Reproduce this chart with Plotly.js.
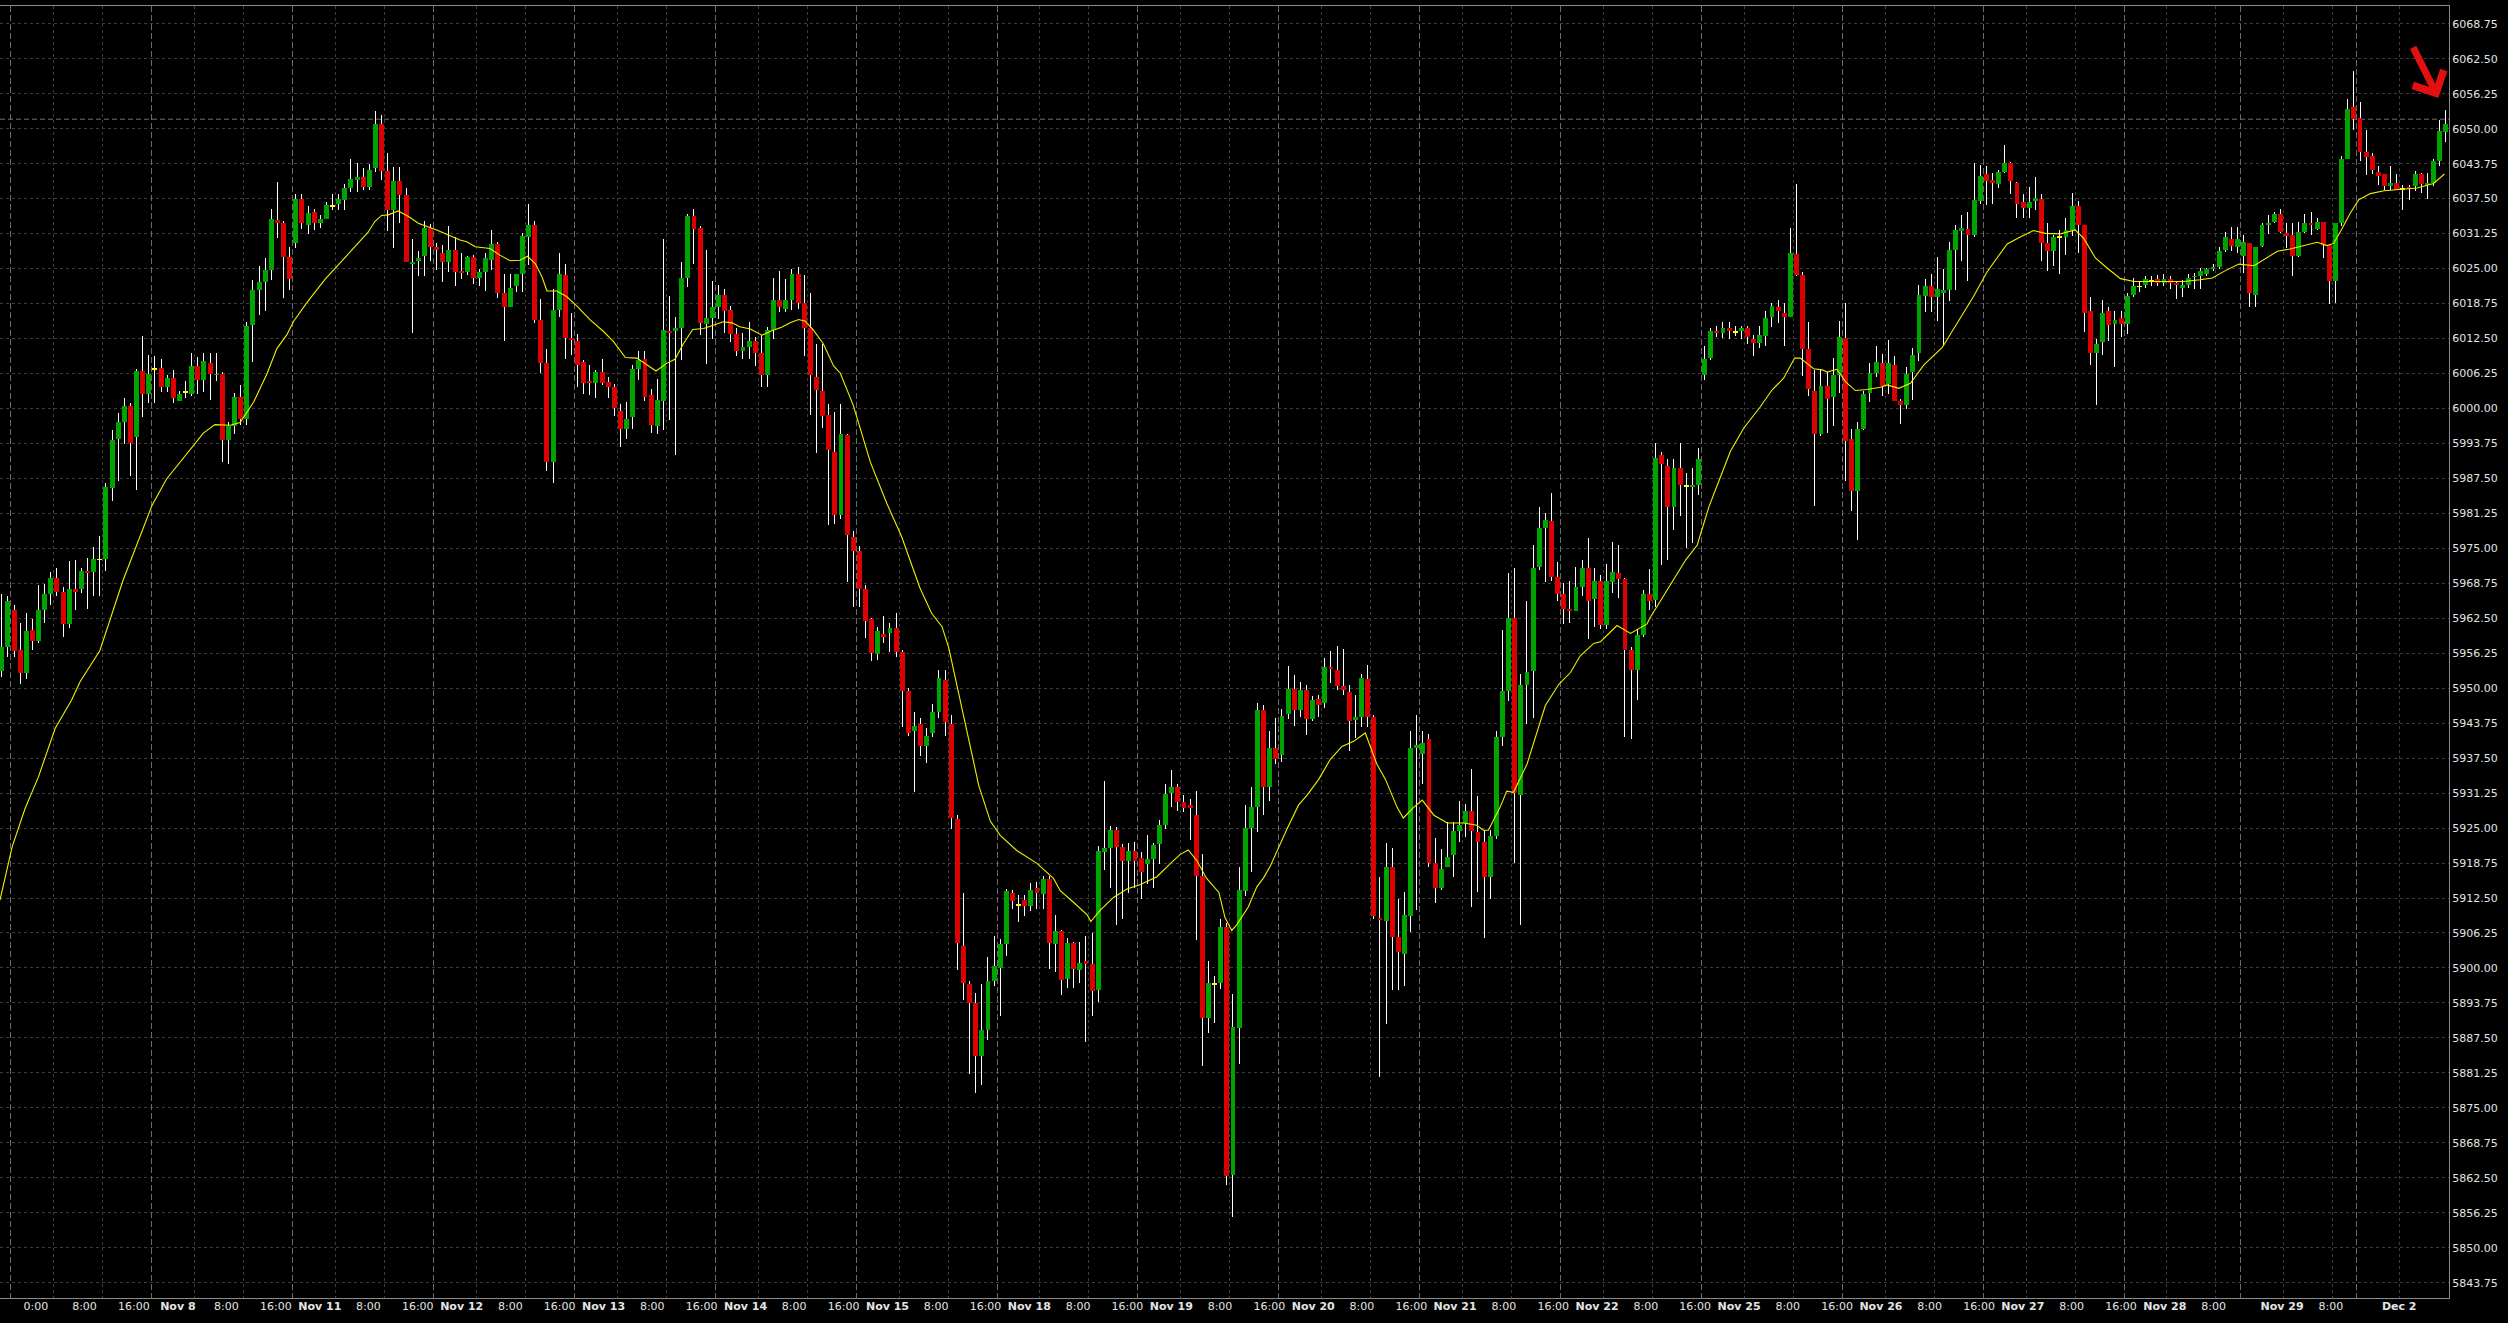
<!DOCTYPE html>
<html>
<head>
<meta charset="utf-8">
<script src="https://cdn.plot.ly/plotly-3.0.1.min.js"></script>
<style>
html,body{margin:0;padding:0;background:#000;overflow:hidden;}
#chart{width:2508px;height:1323px;}
.tracewicks path{shape-rendering:crispEdges;}
.bars path{shape-rendering:crispEdges;}
</style>
</head>
<body>
<div id="chart"></div>
<script>
// ---------- DATA: hourly OHLC, one entry per bar (bar index = position) ----------
const openP = [
5953.1,5957.4,5964.0,5956.8,5952.7,5960.4,5958.5,5964.0,5966.8,5969.7,
5967.2,5961.4,5967.7,5967.7,5971.0,5970.7,5973.0,5973.1,5985.7,5994.5,
5997.5,6000.5,5994.9,6006.7,6002.5,6007.1,6007.2,6003.8,6005.5,6001.4,
6002.9,6002.6,6007.5,6005.1,6008.1,6005.9,6006.2,5994.3,5996.9,6002.0,
5998.1,6015.0,6021.2,6022.6,6024.8,6033.7,6033.1,6027.1,6029.5,6037.5,
6032.8,6035.2,6033.1,6033.9,6036.1,6036.5,6037.2,6039.4,6040.8,6041.3,
6039.6,6043.0,6050.9,6042.5,6035.5,6040.6,6038.2,6025.9,6026.4,6027.3,
6032.2,6028.8,6027.7,6026.2,6028.3,6024.5,6024.4,6027.1,6023.4,6024.4,
6026.6,6029.4,6020.7,6018.2,6021.8,6024.0,6030.7,6032.7,6015.8,6008.2,
5990.4,6017.6,6023.8,6012.6,6012.0,6008.3,6004.9,6004.6,6006.5,6004.8,
6003.8,5999.6,5996.3,5998.4,6007.0,6008.8,6002.4,5996.9,6001.4,6013.8,
6013.8,6014.4,6023.4,6034.4,6032.3,6015.1,6016.2,6018.2,6020.3,6017.6,
6013.3,6010.3,6011.0,6012.0,6010.0,6005.9,6014.0,6019.4,6017.8,6019.4,
6024.0,6018.8,6014.4,6005.6,6003.2,5998.8,5992.2,5981.0,5995.2,5977.1,
5974.6,5967.7,5962.3,5956.1,5959.7,5959.9,5960.7,5956.5,5949.5,5942.3,
5943.6,5939.6,5942.0,5945.8,5951.5,5943.6,5926.6,5903.9,5897.2,5893.7,
5884.2,5888.9,5897.7,5900.0,5904.3,5913.4,5911.2,5912.1,5911.1,5914.3,
5913.2,5915.9,5904.2,5906.6,5898.0,5904.5,5899.7,5901.2,5900.7,5896.1,
5920.7,5921.4,5924.7,5921.6,5919.1,5920.9,5919.6,5918.5,5919.4,5922.2,
5925.6,5931.3,5932.4,5929.7,5929.1,5927.4,5916.4,5891.0,5897.2,5897.4,
5907.4,5863.0,5889.2,5913.8,5925.0,5928.8,5946.1,5932.4,5939.3,5938.1,
5945.4,5949.9,5946.1,5949.7,5944.5,5948.1,5947.3,5953.8,5953.3,5950.4,
5949.4,5944.4,5944.9,5951.7,5944.9,5909.0,5908.4,5918.1,5905.6,5902.5,
5909.3,5939.4,5938.2,5940.9,5918.8,5914.3,5918.1,5920.2,5924.5,5925.9,
5928.1,5924.3,5922.6,5916.3,5923.5,5941.3,5949.5,5962.6,5931.0,5950.6,
5953.0,5971.7,5978.6,5979.9,5969.9,5966.9,5964.2,5963.8,5968.0,5971.5,
5965.9,5969.2,5961.3,5969.0,5970.6,5969.5,5956.8,5953.3,5959.5,5966.9,
5965.8,5991.6,5989.7,5982.3,5989.3,5986.2,5986.0,5986.3,6005.9,6009.1,
6013.8,6013.5,6014.4,6013.7,6013.8,6014.4,6012.4,6011.7,6012.9,6016.3,
6018.1,6017.0,6016.4,6027.6,6023.8,6010.7,6003.2,5995.5,6004.1,6002.0,
6005.9,6012.6,5994.5,5985.3,5996.4,6002.8,6006.4,6008.1,6004.4,6007.8,
6001.3,6000.7,6006.5,6010.0,6020.1,6021.9,6020.0,6020.7,6021.2,6028.3,
6031.7,6032.1,6031.0,6037.1,6041.9,6040.8,6040.2,6042.3,6043.9,6040.3,
6036.9,6035.9,6037.1,6037.5,6029.5,6028.2,6030.6,6030.7,6031.9,6036.1,
6032.7,6017.4,6010.0,6011.9,6017.4,6015.1,6016.1,6015.1,6020.2,6021.8,
6022.0,6022.7,6023.1,6022.5,6023.1,6022.4,6021.6,6022.1,6023.5,6023.7,
6024.0,6024.9,6025.2,6028.4,6030.3,6028.9,6027.2,6029.5,6020.3,6029.1,
6032.7,6033.4,6034.8,6031.3,6031.0,6027.3,6031.5,6033.1,6032.1,6033.3,
6029.2,6022.7,6033.1,6044.6,6053.9,6051.9,6045.8,6045.2,6042.2,6041.9,
6039.8,6040.3,6039.3,6039.6,6039.8,6041.9,6040.0,6040.3,6044.2,6049.5
];
const highP = [
5966.8,5966.4,5964.8,5961.7,5963.5,5962.3,5968.4,5968.7,5970.7,5971.5,
5968.1,5972.8,5972.9,5971.5,5973.3,5975.3,5977.2,5986.7,5996.2,5999.2,
6001.8,6001.0,6007.1,6012.9,6009.5,6009.3,6008.8,6005.9,6006.8,6003.2,
6004.9,6009.9,6009.2,6009.9,6009.9,6009.9,6006.5,5997.5,6002.7,6004.2,
6015.5,6023.0,6025.4,6026.9,6035.6,6040.5,6033.5,6028.8,6038.4,6038.4,
6036.2,6035.7,6034.6,6036.9,6038.4,6038.4,6040.1,6044.6,6043.9,6043.0,
6043.7,6053.1,6052.4,6045.6,6043.2,6043.2,6039.4,6030.2,6028.2,6033.5,
6033.0,6029.5,6029.2,6032.6,6030.7,6027.7,6027.2,6027.4,6025.0,6027.8,
6031.9,6029.8,6024.0,6024.0,6024.1,6031.4,6036.5,6033.5,6019.5,6010.7,
6021.3,6027.7,6025.8,6017.0,6013.3,6008.7,6007.8,6006.9,6008.8,6005.6,
6004.3,6000.8,6001.2,6007.8,6010.2,6010.3,6003.4,6005.3,6030.3,6020.1,
6016.4,6026.2,6034.8,6035.6,6032.6,6028.3,6022.8,6022.0,6021.3,6018.3,
6014.3,6013.5,6015.5,6012.8,6013.2,6014.6,6023.4,6024.5,6023.2,6025.0,
6025.2,6023.8,6020.6,6011.5,6011.5,6000.8,5999.4,6000.8,5995.4,5978.1,
5975.4,5968.4,5962.6,5960.9,5962.9,5961.6,5963.4,5956.8,5950.1,5945.8,
5944.7,5942.8,5947.1,5953.3,5953.3,5945.2,5927.4,5913.4,5897.7,5895.6,
5897.2,5902.0,5905.7,5905.1,5914.2,5914.0,5913.0,5913.0,5915.1,5915.4,
5916.4,5916.4,5909.5,5906.8,5905.4,5904.7,5904.7,5905.7,5906.2,5921.8,
5933.5,5925.3,5925.2,5922.1,5922.3,5922.5,5920.7,5923.7,5922.4,5926.5,
5932.9,5935.4,5932.9,5931.0,5930.2,5931.6,5920.4,5901.2,5898.6,5908.8,
5908.0,5895.3,5918.0,5929.1,5932.4,5947.4,5947.0,5942.4,5944.7,5946.2,
5954.0,5952.3,5951.1,5950.6,5948.6,5948.8,5955.4,5956.7,5957.6,5957.0,
5950.6,5948.8,5952.6,5954.2,5945.2,5916.3,5922.4,5921.4,5912.4,5913.5,
5942.4,5945.2,5942.4,5941.8,5923.3,5921.3,5926.0,5926.0,5929.9,5929.3,
5935.6,5930.8,5924.7,5924.7,5942.4,5960.4,5970.6,5971.5,5952.6,5965.6,
5975.6,5982.4,5981.3,5984.9,5972.6,5968.8,5969.2,5971.7,5972.9,5976.9,
5971.5,5970.3,5972.2,5976.2,5975.6,5969.7,5957.4,5960.6,5967.6,5971.3,
5993.9,5992.2,5990.9,5990.9,5993.9,5988.4,5989.3,5992.9,6011.2,6014.4,
6014.7,6015.4,6015.4,6014.8,6014.8,6014.7,6013.2,6014.7,6017.5,6018.8,
6019.4,6018.9,6032.2,6040.1,6024.3,6015.4,6006.8,6006.8,6006.6,6009.0,
6015.7,6018.9,5996.3,5997.5,6003.1,6008.2,6011.2,6009.8,6012.2,6009.4,
6001.7,6007.4,6010.8,6022.1,6023.1,6024.0,6027.1,6024.9,6029.7,6032.8,
6034.6,6035.1,6043.9,6043.5,6043.3,6042.0,6042.7,6047.0,6044.0,6040.5,
6038.4,6039.6,6041.4,6038.4,6033.1,6031.0,6031.9,6034.1,6038.5,6037.1,
6032.7,6020.0,6012.5,6019.4,6018.1,6017.5,6017.5,6020.6,6023.3,6022.7,
6023.6,6023.6,6023.9,6024.1,6023.7,6022.7,6023.0,6024.0,6024.2,6025.1,
6025.1,6025.8,6028.9,6031.5,6032.5,6032.5,6031.0,6029.5,6028.8,6033.1,
6034.6,6035.2,6035.7,6033.1,6033.1,6033.4,6034.8,6035.2,6034.0,6033.4,
6029.2,6033.2,6045.2,6055.3,6060.3,6054.7,6049.8,6045.6,6043.3,6041.9,
6043.3,6041.9,6040.0,6040.0,6042.4,6042.1,6042.1,6044.6,6051.6,6053.4
];
const lowP = [
5952.0,5955.5,5955.5,5950.7,5951.6,5956.9,5958.0,5961.7,5964.8,5966.4,
5959.1,5960.8,5964.0,5967.0,5964.2,5966.5,5966.5,5970.9,5983.5,5987.1,
5993.6,5988.0,5985.4,5998.4,6001.0,6001.0,6003.0,6003.0,6001.0,6001.3,
6001.8,6002.3,6002.5,6003.0,6001.6,6004.9,5990.4,5990.0,5995.5,5997.1,
5997.1,6008.3,6016.7,6017.5,6023.0,6030.4,6019.8,6021.1,6028.7,6032.0,
6031.2,6031.9,6032.3,6033.8,6035.5,6035.4,6035.4,6038.7,6038.6,6039.1,
6039.1,6042.3,6040.8,6031.7,6028.7,6033.1,6026.1,6013.4,6023.7,6023.6,
6026.4,6024.8,6022.6,6024.4,6021.8,6023.1,6023.8,6022.3,6021.9,6021.0,
6024.7,6019.8,6012.0,6018.2,6020.9,6020.9,6025.6,6015.3,6006.4,5988.8,
5986.7,6016.4,6008.8,6009.6,6003.9,6002.6,6002.4,6001.8,6004.2,6001.8,
5998.6,5993.1,5994.5,5996.4,6005.0,6001.4,5995.7,5995.5,5996.2,5998.0,
5991.7,6008.7,6021.7,6025.9,6013.1,6007.9,6012.5,6016.0,6013.5,6011.9,
6009.4,6008.8,6008.9,6007.5,6003.9,6003.9,6012.5,6017.3,6017.3,6017.6,
6017.7,6009.3,5998.8,5992.0,5996.5,5979.2,5979.4,5980.2,5968.9,5964.5,
5964.5,5958.9,5954.8,5955.0,5958.1,5956.5,5955.6,5943.0,5941.5,5931.4,
5937.8,5936.7,5941.3,5944.7,5941.5,5924.9,5899.7,5894.3,5881.1,5877.7,
5879.1,5887.1,5896.7,5891.4,5902.2,5910.5,5908.3,5909.2,5910.2,5910.5,
5910.5,5899.9,5899.3,5895.1,5896.5,5896.5,5897.4,5886.8,5891.4,5894.0,
5917.5,5914.3,5907.7,5908.7,5913.4,5914.3,5912.4,5915.0,5914.3,5918.6,
5924.9,5928.7,5928.1,5927.8,5922.8,5905.0,5882.5,5888.4,5890.1,5896.2,
5861.2,5855.4,5882.8,5912.9,5917.2,5924.3,5927.3,5929.9,5936.5,5936.8,
5944.5,5943.3,5944.9,5941.7,5944.1,5944.9,5946.5,5951.0,5949.7,5948.8,
5938.8,5941.1,5943.1,5943.1,5908.7,5880.5,5890.0,5896.1,5896.1,5896.7,
5906.5,5910.4,5932.9,5918.1,5911.6,5913.9,5918.1,5916.2,5922.6,5923.4,
5910.9,5913.5,5905.4,5912.4,5923.1,5939.7,5947.8,5918.8,5907.7,5943.6,
5944.7,5971.1,5969.0,5969.2,5965.6,5961.5,5961.7,5963.8,5966.5,5958.8,
5961.0,5960.6,5960.6,5967.1,5966.2,5941.2,5941.0,5947.9,5959.2,5964.0,
5964.5,5972.0,5973.0,5978.2,5980.7,5975.0,5976.0,5984.5,6005.0,6008.7,
6012.7,6012.6,6012.4,6013.0,6012.4,6011.5,6009.3,6010.8,6011.2,6014.5,
6015.3,6011.2,6016.3,6023.7,6005.8,6002.2,5982.6,5995.1,5995.7,5996.9,
6002.8,5987.1,5981.6,5976.5,5996.1,6001.2,6005.7,6002.2,6002.5,6001.3,
5997.2,5999.9,6001.5,6008.4,6017.3,6017.3,6015.6,6011.1,6019.2,6021.2,
6026.4,6022.7,6030.7,6036.5,6036.4,6036.6,6039.4,6042.1,6038.4,6034.0,
6034.1,6034.1,6035.4,6026.4,6024.5,6025.5,6024.0,6027.5,6030.9,6027.8,
6013.7,6007.8,6000.7,6009.6,6012.0,6007.4,6012.7,6013.3,6020.0,6020.8,
6021.5,6021.8,6021.8,6021.8,6021.3,6019.6,6019.9,6021.5,6021.3,6021.3,
6023.6,6024.6,6025.0,6027.9,6028.1,6027.8,6024.2,6018.1,6018.1,6028.9,
6031.2,6033.1,6031.3,6028.6,6023.6,6027.0,6031.3,6031.0,6031.9,6026.9,
6018.6,6018.9,6032.6,6044.5,6049.8,6044.2,6041.8,6041.9,6040.0,6039.1,
6039.1,6039.0,6035.5,6037.2,6038.8,6038.5,6037.5,6039.8,6043.4,6047.6
];
const closeP = [
5957.3,5965.6,5956.7,5952.7,5960.2,5958.5,5964.0,5966.8,5969.7,5967.2,
5961.4,5967.7,5967.2,5970.9,5970.6,5973.1,5973.0,5985.9,5994.3,5997.5,
6000.5,5993.9,6006.7,6002.5,6006.2,6007.1,6003.8,6005.5,6001.8,6002.6,
6002.9,6007.5,6005.1,6008.5,6006.1,6006.2,5994.3,5996.9,6002.0,5998.1,
6014.8,6021.2,6022.6,6024.8,6033.8,6033.2,6027.1,6023.2,6037.5,6033.1,
6035.0,6033.1,6033.9,6036.4,6036.1,6037.5,6039.4,6041.0,6041.4,6039.6,
6042.7,6050.8,6042.5,6035.5,6040.6,6038.2,6026.1,6026.1,6026.9,6032.2,
6028.9,6028.4,6026.2,6028.3,6024.4,6024.2,6027.1,6023.4,6024.4,6026.9,
6029.4,6020.7,6018.2,6021.6,6024.0,6030.8,6032.7,6015.8,6008.2,5990.4,
6017.6,6024.0,6012.6,6012.3,6007.8,6004.6,6004.6,6006.5,6004.6,6003.8,
6000.0,5996.3,5998.1,6007.0,6008.7,6002.1,5997.1,6001.5,6014.0,6013.5,
6014.4,6023.4,6034.4,6032.0,6015.2,6016.2,6018.2,6020.2,6017.5,6013.3,
6010.3,6010.9,6012.0,6010.0,6005.9,6014.0,6019.4,6018.2,6019.4,6024.0,
6018.9,6014.4,6005.9,6003.3,5998.7,5992.5,5981.0,5995.4,5977.3,5974.6,
5967.7,5962.1,5956.3,5960.2,5959.1,5960.7,5956.5,5949.5,5942.0,5943.3,
5939.6,5941.5,5945.8,5951.8,5943.9,5926.8,5904.5,5897.4,5893.7,5884.2,
5888.9,5897.7,5900.4,5904.3,5913.7,5911.9,5911.2,5911.0,5913.9,5913.4,
5915.9,5904.4,5906.6,5897.8,5904.5,5899.9,5900.9,5900.7,5895.9,5920.9,
5921.4,5924.6,5921.7,5919.1,5920.9,5919.1,5917.2,5919.4,5921.9,5925.6,
5931.1,5932.3,5929.7,5928.6,5928.6,5916.4,5891.0,5897.4,5897.2,5907.4,
5862.9,5889.4,5914.0,5925.0,5928.7,5946.1,5932.4,5939.3,5937.3,5945.0,
5949.9,5946.1,5949.7,5944.5,5947.9,5947.0,5953.8,5953.5,5950.4,5949.7,
5944.2,5944.9,5951.9,5944.9,5909.3,5908.6,5918.1,5905.6,5902.9,5909.5,
5939.4,5939.8,5940.2,5918.8,5914.3,5917.7,5919.9,5924.5,5925.6,5928.1,
5924.5,5922.6,5916.3,5923.5,5941.3,5949.5,5962.6,5931.2,5950.6,5952.9,
5971.5,5978.6,5980.1,5969.9,5966.9,5964.2,5963.8,5968.0,5971.5,5965.6,
5969.2,5961.3,5969.2,5970.7,5969.5,5956.8,5953.3,5959.5,5966.9,5965.6,
5991.2,5990.0,5982.3,5989.3,5986.3,5986.2,5986.3,5990.9,6008.9,6013.9,
6013.5,6014.4,6013.8,6013.7,6014.4,6012.8,6011.7,6013.1,6016.2,6018.3,
6017.4,6016.4,6027.7,6023.8,6010.7,6003.5,5995.5,6004.1,6001.7,6005.9,
6012.7,5994.1,5985.3,5996.3,6002.5,6006.4,6008.3,6004.0,6008.1,6001.3,
6000.7,6006.1,6009.6,6020.3,6021.9,6020.0,6021.3,6021.2,6028.3,6031.9,
6032.2,6031.0,6037.2,6041.5,6040.7,6040.3,6042.3,6043.9,6040.7,6036.6,
6035.9,6036.9,6037.7,6029.6,6028.2,6030.6,6030.6,6031.9,6036.1,6032.7,
6017.1,6010.0,6011.5,6017.0,6014.9,6015.8,6015.1,6020.1,6021.9,6021.8,
6023.1,6022.7,6022.5,6023.1,6022.5,6022.0,6022.1,6023.3,6023.7,6024.6,
6024.9,6025.2,6028.2,6030.6,6029.1,6030.3,6029.7,6020.7,6028.8,6032.7,
6033.1,6034.8,6031.6,6030.9,6027.3,6031.5,6033.1,6032.7,6033.3,6029.2,
6022.7,6033.1,6044.5,6053.5,6051.7,6045.8,6044.9,6042.7,6041.6,6039.8,
6040.3,6039.1,6039.3,6039.3,6041.9,6040.2,6040.3,6044.2,6049.6,6050.9
];

// Moving average (yellow line) at bar positions
const maBar = [
-0.3,1.7,3.8,6.0,8.7,11.4,12.8,16.0,19.8,21.8,
24.5,26.9,30.2,32.9,34.8,37.3,38.9,41.1,43.3,44.9,
46.5,47.6,49.8,52.8,55.8,59.8,60.9,62.0,63.1,64.7,
66.4,68.0,71.0,73.7,74.8,75.9,77.3,79.7,81.3,83.0,
84.6,85.8,87.1,88.2,89.0,90.6,92.2,93.9,96.1,98.2,
99.9,101.8,103.7,105.3,106.8,108.6,109.9,111.3,112.8,114.6,
116.2,117.8,119.2,120.5,122.2,124.1,125.7,127.3,128.7,130.1,
131.2,132.5,134.1,135.8,136.9,139.0,141.8,144.5,146.9,148.3,
149.9,151.8,153.5,154.6,155.9,157.6,159.5,161.4,163.0,165.7,
169.0,171.7,172.8,175.0,177.2,177.8,179.3,181.5,183.7,185.9,
188.6,190.8,192.4,193.7,195.1,196.7,198.7,199.7,200.8,201.6,
203.5,204.9,206.0,207.1,208.4,209.8,211.7,213.1,215.0,216.9,
218.8,220.7,222.6,224.5,225.9,227.8,228.8,230.5,231.9,233.8,
236.0,238.7,240.8,241.9,242.7,244.6,245.7,246.8,249.0,250.4,
252.0,254.2,256.1,257.7,259.9,261.0,263.7,265.9,268.6,269.1,
274.9,276.8,278.7,280.6,282.2,284.4,287.1,289.0,290.9,292.7,
293.6,295.8,297.2,298.0,299.6,301.0,302.6,304.5,306.7,307.8,
309.7,311.6,313.8,316.8,319.2,321.9,324.1,327.4,329.6,331.7,
333.6,336.1,338.5,339.9,341.8,343.7,345.9,348.1,350.8,353.5,
356.2,358.9,360.9,362.8,365.2,367.7,369.3,371.5,373.6,375.8,
378.0,379.6,380.7,382.1,383.4,384.8,386.7,388.9,391.6,394.3,
397.0,398.8
];
const maVal = [
5912.1,5921.7,5928.5,5934.2,5942.8,5947.9,5951.2,5956.7,5969.3,5975.1,
5982.6,5987.4,5991.9,5995.6,5997.1,5997.0,5997.5,6001.1,6006.2,6010.7,
6013.1,6015.5,6018.9,6023.1,6026.7,6031.5,6033.4,6034.5,6034.6,6035.3,
6034.3,6033.1,6031.9,6030.7,6030.1,6029.8,6028.9,6028.6,6027.4,6026.4,
6026.5,6027.2,6025.9,6023.5,6021.0,6021.0,6020.0,6018.3,6015.8,6013.8,
6011.9,6009.1,6009.0,6007.8,6006.7,6008.1,6008.8,6011.6,6014.1,6014.3,
6014.9,6015.5,6015.3,6014.6,6014.2,6013.1,6013.9,6014.5,6015.3,6015.9,
6015.6,6014.0,6011.6,6007.6,6006.3,6000.6,5990.4,5983.0,5977.1,5972.8,
5967.9,5963.4,5961.0,5957.2,5950.8,5942.2,5932.6,5926.2,5923.7,5921.0,
5918.7,5916.0,5913.8,5911.7,5909.5,5908.3,5910.3,5912.6,5914.1,5914.9,
5916.3,5918.7,5920.3,5921.1,5919.2,5916.0,5913.5,5909.0,5906.7,5907.7,
5910.9,5914.5,5916.1,5918.2,5921.4,5924.8,5929.1,5930.9,5933.7,5937.3,
5939.6,5940.5,5942.0,5936.4,5933.7,5928.7,5926.8,5928.7,5930.0,5927.3,
5925.9,5925.9,5925.5,5924.6,5924.6,5928.7,5931.6,5931.4,5936.4,5941.4,
5946.9,5950.7,5952.8,5955.8,5958.0,5958.3,5961.2,5959.8,5961.5,5962.6,
5972.9,5975.6,5982.4,5987.8,5992.3,5996.5,6000.3,6003.3,6005.4,6009.0,
6009.0,6007.1,6006.9,6006.5,6007.0,6004.8,6003.2,6003.4,6003.8,6004.2,
6003.6,6004.5,6007.8,6010.9,6015.2,6020.0,6024.4,6029.4,6030.7,6031.8,
6031.3,6031.2,6031.9,6030.4,6026.9,6025.1,6023.2,6022.7,6022.7,6022.7,
6022.7,6023.0,6023.3,6024.5,6025.8,6025.5,6026.6,6028.1,6028.5,6029.1,
6029.7,6029.1,6029.5,6032.2,6034.9,6037.3,6038.4,6038.9,6039.1,6039.4,
6040.2,6041.9
];

// Current ask price line
const askPrice = 6051.7;

// Time axis: bar index of each session start, and 8:00 / 16:00 grid bars
const dayStartBars = [2,25,48,71,94,117,140,163,186,209,232,255,278,301,324,347,366,385];
const dayLabels = ['0:00','Nov 8','Nov 11','Nov 12','Nov 13','Nov 14','Nov 15','Nov 18','Nov 19',
  'Nov 20','Nov 21','Nov 22','Nov 25','Nov 26','Nov 27','Nov 28','Nov 29','Dec 2'];
const timeGridBars = [9,17,32,40,55,63,78,86,101,109,124,132,147,155,170,178,193,201,216,224,
  239,247,262,270,285,293,308,316,331,339,354,362,373,381,392];
const timeLabels = ['8:00','16:00','8:00','16:00','8:00','16:00','8:00','16:00','8:00','16:00',
  '8:00','16:00','8:00','16:00','8:00','16:00','8:00','16:00','8:00','16:00',
  '8:00','16:00','8:00','16:00','8:00','16:00','8:00','16:00','8:00','16:00',
  '8:00','','8:00','',''];

// Price axis ticks
const priceTick0 = 5843.75;
const priceStep = 6.25;

// ---------- STYLE ----------
const UP = '#00a400', DOWN = '#dc0000', FLAT = '#ffff00';
const WICK = '#ffffff', MA_COLOR = '#f0f000';
const GRID = '#3d3d3d', DAYGRID = '#6a6a6a', FRAME = '#8a8a8a', TEXT = '#e4e4e4';
const FONT = 'DejaVu Sans';
const X_RANGE = [-0.294, 399.53];
const Y_RANGE = [5841.01, 6071.93];
const GRID_OFF = -0.52;      // grid line sits just left of the bar centre
const DOJI_H = 0.35;         // visible thickness for open == close bars
const BODY_W = 0.8;

// ---------- BUILD ----------
const n = openP.length;
const idx = openP.map((_, i) => i);
const bodyBase = idx.map(i => openP[i] === closeP[i] ? openP[i] - DOJI_H / 2 : Math.min(openP[i], closeP[i]));
const bodyLen = idx.map(i => openP[i] === closeP[i] ? DOJI_H : Math.abs(closeP[i] - openP[i]));
const bodyCol = idx.map(i => closeP[i] > openP[i] ? UP : (closeP[i] < openP[i] ? DOWN : FLAT));
// wick pieces above and below the body (so the body colour stays solid)
const wickX = [], wickY = [];
idx.forEach(i => {
  const bTop = bodyBase[i] + bodyLen[i];
  if (lowP[i] < bodyBase[i]) { wickX.push(i, i, null); wickY.push(lowP[i], bodyBase[i], null); }
  if (highP[i] > bTop) { wickX.push(i, i, null); wickY.push(bTop, highP[i], null); }
});

const labelPos = [], labelText = [];
dayStartBars.forEach((k, j) => {
  const g = k + GRID_OFF;
  labelPos.push(g + 4.08 + 0.0074 * g);
  labelText.push(dayLabels[j].indexOf(':') >= 0 ? dayLabels[j] : '<b>' + dayLabels[j] + '</b>');
});
timeGridBars.forEach((k, j) => {
  if (!timeLabels[j]) return;
  const g = k + GRID_OFF;
  labelPos.push(g + 4.96 + 0.0075 * g);
  labelText.push(timeLabels[j]);
});

const traces = [
  {type: 'scatter', mode: 'lines', x: wickX, y: wickY, uid: 'wicks',
   line: {color: WICK, width: 1}, hoverinfo: 'skip', showlegend: false, connectgaps: false},
  {type: 'bar', x: idx, y: bodyLen, base: bodyBase, width: BODY_W,
   marker: {color: bodyCol, line: {width: 0}}, hoverinfo: 'skip', showlegend: false},
  {type: 'scatter', mode: 'lines', x: maBar, y: maVal,
   line: {color: MA_COLOR, width: 1.1}, hoverinfo: 'skip', showlegend: false},
  // carriers so the overlay axes (day separators, time labels) are drawn
  {type: 'scatter', mode: 'none', x: idx, y: closeP, xaxis: 'x2', hoverinfo: 'skip', showlegend: false},
  {type: 'scatter', mode: 'none', x: idx, y: closeP, xaxis: 'x3', hoverinfo: 'skip', showlegend: false}
];

const baseX = {range: X_RANGE, fixedrange: true, zeroline: false, ticks: '', autorange: false};

const layout = {
  width: 2508, height: 1323,
  margin: {l: 0, r: 59, t: 6, b: 25, pad: 0},
  paper_bgcolor: '#000', plot_bgcolor: '#000',
  font: {family: FONT, size: 11, color: TEXT},
  showlegend: false, hovermode: false, barmode: 'overlay',
  xaxis: Object.assign({}, baseX, {
    tickmode: 'array', tickvals: timeGridBars.map(k => k + GRID_OFF),
    showticklabels: false, showgrid: true, gridcolor: GRID, gridwidth: 1, griddash: '3px,3px',
    showline: true, linecolor: FRAME, linewidth: 1, mirror: true
  }),
  xaxis2: Object.assign({}, baseX, {
    overlaying: 'x', anchor: 'y', side: 'bottom',
    tickmode: 'array', tickvals: dayStartBars.map(k => k + GRID_OFF),
    showticklabels: false, showgrid: true, gridcolor: DAYGRID, gridwidth: 1, griddash: '6px,3px',
    showline: false
  }),
  xaxis3: Object.assign({}, baseX, {
    overlaying: 'x', anchor: 'y', side: 'bottom',
    tickmode: 'array', tickvals: labelPos, ticktext: labelText, tickangle: 0,
    tickfont: {family: FONT, size: 11, color: TEXT},
    showticklabels: true, showgrid: false, showline: false, automargin: false
  }),
  yaxis: {
    range: Y_RANGE, autorange: false, fixedrange: true, side: 'right',
    tickmode: 'linear', tick0: priceTick0, dtick: priceStep, tickformat: '.2f',
    tickfont: {family: FONT, size: 11, color: TEXT}, ticks: '',
    showgrid: true, gridcolor: GRID, gridwidth: 1, griddash: '3px,3px',
    showline: true, linecolor: FRAME, linewidth: 1, mirror: true, zeroline: false, automargin: false
  },
  shapes: [{type: 'line', xref: 'paper', x0: 0, x1: 1, yref: 'y', y0: askPrice, y1: askPrice,
    line: {color: '#707070', width: 1, dash: '5px,3px'}, layer: 'below'}],
  annotations: [{
    x: n - 2.2, y: highP[n - 1] + 2.1, xref: 'x', yref: 'y', text: '',
    showarrow: true, arrowhead: 4, arrowsize: 0.95, arrowwidth: 7, arrowcolor: '#e31010',
    ax: -26, ay: -52, standoff: 0
  }]
};

Plotly.newPlot('chart', traces, layout, {staticPlot: true, displayModeBar: false});
</script>
</body>
</html>
